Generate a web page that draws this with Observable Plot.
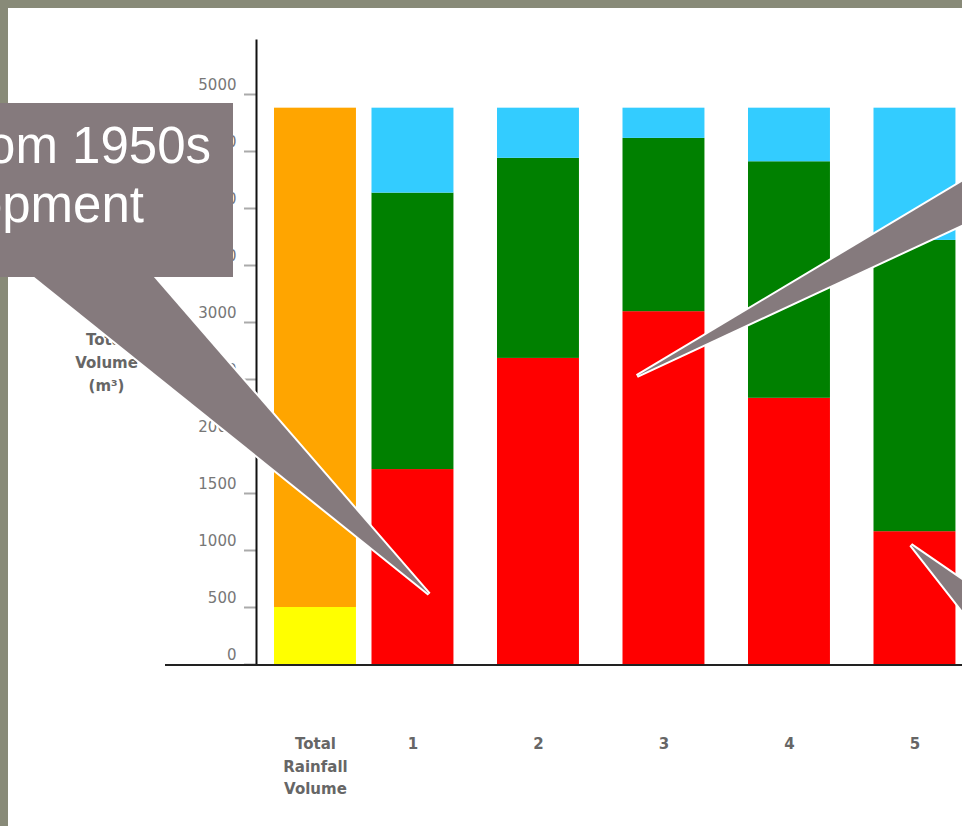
<!DOCTYPE html>
<html>
<head>
<meta charset="utf-8">
<script src="https://cdn.jsdelivr.net/npm/d3@7"></script>
<script src="https://cdn.jsdelivr.net/npm/@observablehq/plot@0.6"></script>
<style>
  html, body { margin: 0; padding: 0; }
  body { width: 962px; height: 826px; background: #888a78; position: relative; overflow: hidden; }
  #panel { position: absolute; left: 8px; top: 8px; width: 954px; height: 818px; background: #ffffff; overflow: hidden; }
  #overlay { position: absolute; left: 0; top: 0; pointer-events: none; }
</style>
</head>
<body>
<div id="panel"></div>
<svg id="overlay" width="962" height="826"></svg>
<script>
// ---- data ----
const categories = ["Total Rainfall Volume", "1", "2", "3", "4", "5"];
const categoryLabels = ["Total\nRainfall\nVolume", "1", "2", "3", "4", "5"];
const rainfallSeries = ["Rainfall part A", "Rainfall part B"];
const rainfallValues = [500, 4380];
const scenarioSeries = ["Component A", "Component B", "Component C"];
const componentAValues = [1710, 2685, 3095, 2335, 1165];
const componentBValues = [2425, 1755, 1520, 2075, 2555];
const componentCValues = [745, 440, 265, 470, 1160];
const yTicks = [0, 500, 1000, 1500, 2000, 2500, 3000, 3500, 4000, 4500, 5000];
const yTitle = "Total\nVolume\n(m³)";
const calloutLines = ["from 1950s", "development"];

// ---- styles (kept apart from data) ----
const seriesNames = [...rainfallSeries, ...scenarioSeries];
const seriesColors = ["#ffff00", "#ffa500", "#ff0000", "#008000", "#33ccff"];

// ---- tables ----
const rainfallRows = rainfallSeries.map((s, i) => ({cat: categories[0], series: s, value: rainfallValues[i]}));
const scenarioRows = [];
categories.slice(1).forEach((c, i) => {
  scenarioRows.push({cat: c, series: scenarioSeries[0], value: componentAValues[i]});
  scenarioRows.push({cat: c, series: scenarioSeries[1], value: componentBValues[i]});
  scenarioRows.push({cat: c, series: scenarioSeries[2], value: componentCValues[i]});
});
const labelOf = new Map(categories.map((c, i) => [c, categoryLabels[i]]));

const W = 954, H = 818;
const plot = Plot.plot({
  width: W,
  height: H,
  marginLeft: 248,
  marginRight: 0,
  marginTop: 32,
  marginBottom: 162,
  style: {fontFamily: "DejaVu Sans, Verdana, sans-serif", background: "transparent", overflow: "visible"},
  x: {type: "band", domain: categories, range: [238, 947.45], paddingInner: 0.347, paddingOuter: 0, align: 0.5, round: false, axis: null},
  y: {domain: [0, 5000], range: [656, 86]},
  color: {type: "ordinal", domain: seriesNames, range: seriesColors},
  marks: [
    Plot.barY(rainfallRows, {x: "cat", y: "value", fill: "series", dx: 28, order: rainfallSeries}),
    Plot.barY(scenarioRows, {x: "cat", y: "value", fill: "series", order: scenarioSeries}),
    Plot.axisY({ticks: yTicks, tickSize: 12, fill: "none", stroke: "#aaaaaa", strokeWidth: 2, label: null}),
    Plot.axisY({ticks: yTicks, tickSize: 0, tickPadding: 20, tickFormat: d => String(d), stroke: "none", fill: "#777777", fontSize: 15, dy: -9.5, label: null}),
    Plot.frame({anchor: "left", stroke: "#111111", strokeWidth: 2}),
    Plot.text(categories.slice(1), {x: d => d, text: d => labelOf.get(d), frameAnchor: "bottom", lineAnchor: "top", dy: 74, fontSize: 15, fontWeight: "bold", fill: "#666666"}),
    Plot.text(categories.slice(0, 1), {x: d => d, text: d => labelOf.get(d), frameAnchor: "bottom", lineAnchor: "top", dy: 69, dx: 28, lineHeight: 1.5, fontSize: 15, fontWeight: "bold", fill: "#666666"}),
    Plot.text([yTitle], {text: d => d, frameAnchor: "left", dx: -150, dy: 8, textAnchor: "middle", lineAnchor: "middle", lineHeight: 1.53, fontSize: 15, fontWeight: "bold", fill: "#666666"})
  ]
});
document.getElementById("panel").appendChild(plot);

// extended baseline (left of the plot frame), positioned with the plot's own y scale
const y0 = plot.scale("y").apply(0);
d3.select(plot).append("line")
  .attr("x1", 157).attr("x2", W)
  .attr("y1", y0 + 1).attr("y2", y0 + 1)
  .attr("stroke", "#222222").attr("stroke-width", 2);

// ---- callout annotations (overlay, page coordinates) ----
const ov = d3.select("#overlay");
const calloutFill = "#857a7d";
function pointer(base1, base2, tip) {
  ov.append("path").attr("d", `M${base1}L${tip}L${base2}`).attr("fill", "none")
    .attr("stroke", "#ffffff").attr("stroke-width", 4).attr("stroke-linejoin", "miter");
  ov.append("path").attr("d", `M${base1}L${tip}L${base2}Z`).attr("fill", calloutFill);
}
// callout 1 (box + pointer)
pointer([33, 276], [153, 276], [429, 594]);
ov.append("rect").attr("x", -20).attr("y", 103).attr("width", 253).attr("height", 174).attr("fill", calloutFill);
ov.append("text").attr("x", 211).attr("y", 163).attr("text-anchor", "end")
  .attr("font-family", "Liberation Sans, Arial, sans-serif").attr("font-size", 51).attr("fill", "#ffffff")
  .text(calloutLines[0]);
ov.append("text").attr("x", 144).attr("y", 222).attr("text-anchor", "end")
  .attr("font-family", "Liberation Sans, Arial, sans-serif").attr("font-size", 51).attr("fill", "#ffffff")
  .text(calloutLines[1]);
// callout 2 (box off to the right)
pointer([1000, 159], [1000, 207], [637, 376]);
// callout 3 (box off to the right)
pointer([1000, 606], [1000, 659], [911, 545]);
</script>
</body>
</html>
